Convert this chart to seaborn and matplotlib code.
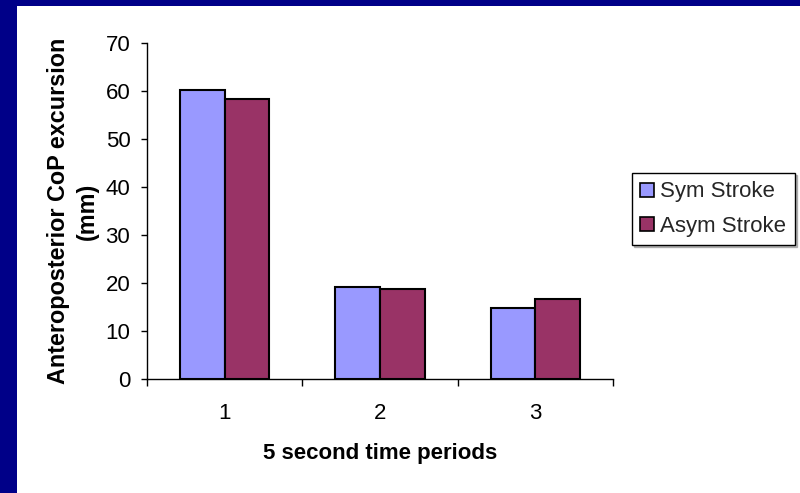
import matplotlib
matplotlib.use("Agg")
import matplotlib.pyplot as plt
from matplotlib.patches import Rectangle, Patch
from matplotlib.ticker import FixedLocator, NullFormatter
import seaborn as sns
import pandas as pd

# Mean anteroposterior CoP excursion (mm) per 5 s period
periods = ["1", "2", "3"]
groups = ["Sym Stroke", "Asym Stroke"]
sym_values = [60.3, 19.2, 14.7]
asym_values = [58.4, 18.8, 16.6]
yticks = [0, 10, 20, 30, 40, 50, 60, 70]

colors = {"Sym Stroke": "#9999FF", "Asym Stroke": "#993366"}

df = pd.DataFrame({
    "period": periods * 2,
    "group": [groups[0]] * len(periods) + [groups[1]] * len(periods),
    "excursion": sym_values + asym_values,
})

sns.set_theme(style="white")
plt.rcParams["font.family"] = ["Liberation Sans", "DejaVu Sans"]

fig = plt.figure(figsize=(8.0, 4.93), dpi=100)
fig.patch.set_facecolor("white")
ax = fig.add_axes([147 / 800, 1 - 379 / 493, (613 - 147) / 800, (379 - 43) / 493])

sns.barplot(data=df, x="period", y="excursion", hue="group", order=periods,
            hue_order=groups, palette=colors, width=0.575, gap=0,
            edgecolor="black", linewidth=1.5, saturation=1, ax=ax, legend=False)

ax.set_xlim(-0.5, 2.5)
ax.set_ylim(0, 70)
ax.set_yticks(yticks)
ax.tick_params(axis="y", which="major", direction="out", length=4, width=1,
               color="black", pad=8, labelsize=16, labelcolor="black", left=True)
# category labels sit between boundary ticks
ax.tick_params(axis="x", which="major", length=0, pad=17, labelsize=16, labelcolor="black")
ax.xaxis.set_minor_locator(FixedLocator([-0.5, 0.5, 1.5, 2.5]))
ax.xaxis.set_minor_formatter(NullFormatter())
ax.tick_params(axis="x", which="minor", direction="out", length=5, width=1,
               color="black", bottom=True)

for side in ("top", "right"):
    ax.spines[side].set_visible(False)
for side in ("left", "bottom"):
    ax.spines[side].set_color("black")
    ax.spines[side].set_linewidth(1)

ax.set_xlabel("5 second time periods", fontsize=16, fontweight="bold", labelpad=14, color="black")
ax.set_ylabel("Anteroposterior CoP excursion\n(mm)", fontsize=16.8, fontweight="bold",
              labelpad=5, color="black", linespacing=1.3)

handles = [Patch(facecolor=colors[g], edgecolor="black", linewidth=1.2, label=g) for g in groups]
leg = ax.legend(handles=handles, loc="upper left", bbox_to_anchor=(632 / 800, 1 - 173 / 493),
                bbox_transform=fig.transFigure, borderaxespad=0, fontsize=16,
                handlelength=0.6, handleheight=0.6, handletextpad=0.3,
                labelspacing=0.6, borderpad=0.38, fancybox=False,
                edgecolor="black", framealpha=1,
                shadow={"ox": 1.5, "oy": -1.5, "color": "0.55", "alpha": 0.6})
leg.get_frame().set_linewidth(1)

# navy slide border on the left and top edges
fig.patches.append(Rectangle((0, 0), 17 / 800, 1, transform=fig.transFigure,
                             facecolor="#000088", edgecolor="none", zorder=10))
fig.patches.append(Rectangle((0, 1 - 6 / 493), 1, 6 / 493, transform=fig.transFigure,
                             facecolor="#000088", edgecolor="none", zorder=10))

fig.savefig("out.png", dpi=100, facecolor="white")
